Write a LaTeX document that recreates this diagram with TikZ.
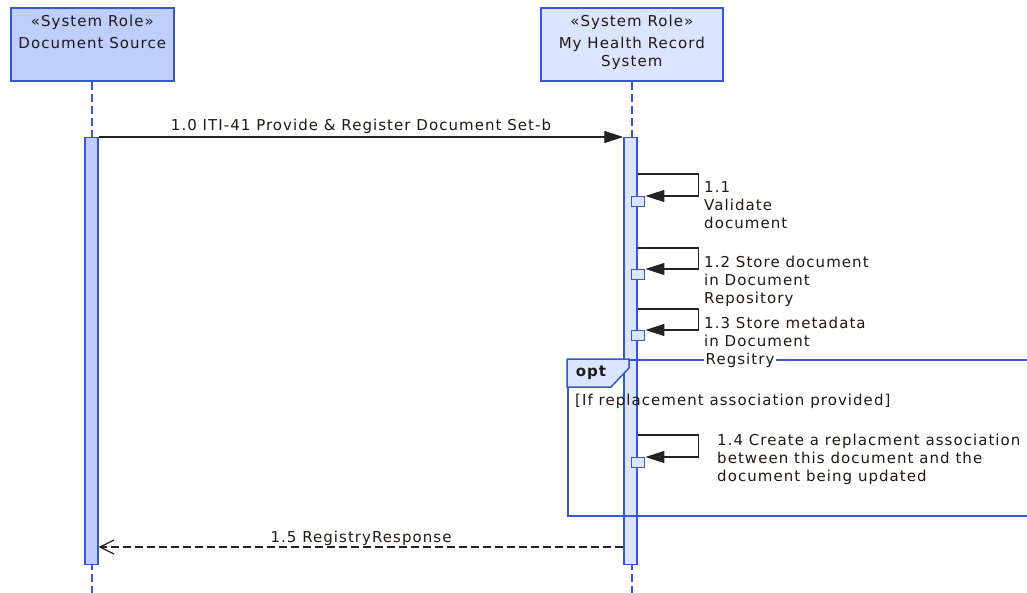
\documentclass[tikz,border=0pt]{standalone}
\usepackage{fontspec}
\setmainfont{DejaVu Sans}[LetterSpace=7]
\definecolor{roleblue}{RGB}{55, 85, 215}
\definecolor{srcfill}{RGB}{190, 207, 255}
\definecolor{mhrfill}{RGB}{220, 229, 255}
\definecolor{msgink}{RGB}{35, 35, 35}
\definecolor{txtink}{RGB}{30, 25, 20}
\usetikzlibrary{arrows.meta, positioning}

\begin{document}
\begin{tikzpicture}[x=1pt, y=-1pt,
  every node/.style={font=\fontsize{15}{18}\selectfont, text=txtink},
  headbox/.style={draw=roleblue, line width=1.6pt, anchor=north west, inner sep=0pt},
  lifeline/.style={draw=roleblue, line width=1.8pt, dash pattern=on 8pt off 4pt},
  actbar/.style={draw=roleblue, line width=1.4pt, minimum width=13pt, inner sep=0pt, anchor=north},
  execbox/.style={draw=roleblue, fill=mhrfill, line width=1.4pt, minimum width=13pt, minimum height=10pt, inner sep=0pt, anchor=north west},
  syncmsg/.style={draw=msgink, line width=1.2pt, -{Triangle[length=19pt, width=12pt]}},
  retmsg/.style={draw=msgink, line width=1.2pt, dash pattern=on 8pt off 4pt, -{Straight Barb[length=14pt, width=14pt, line width=1.2pt]}},
  msglabel/.style={anchor=north west, inner sep=0pt, align=left},
  optbold/.style={font=\fontsize{15}{18}\selectfont\bfseries}
]
\useasboundingbox (0,0) rectangle (1027,593);

% Lifeline heads
\node (src) [headbox, fill=srcfill, minimum width=163pt, minimum height=73pt] at (10,7) {};
\node (srcname) [below=8.3pt of src.north, inner sep=0pt, align=center] {«System Role»\\[3.6pt]Document Source};
\node (mhr) [headbox, fill=mhrfill, minimum width=182pt, minimum height=73pt] at (540,7) {};
\node (mhrname) [below=8.3pt of mhr.north, inner sep=0pt, align=center] {«System Role»\\[3.6pt]My Health Record\\System};

% Lifelines and activations
\coordinate (bottom) at (0,596);
\draw[lifeline] (src.south) -- (src.south |- bottom);
\draw[lifeline] (mhr.south) -- (mhr.south |- bottom);
\node (srcbar) [actbar, fill=srcfill, minimum height=427pt] at (91.5,137) {};
\node (mhrbar) [actbar, fill=mhrfill, minimum height=427pt] at (630.5,137) {};

% opt fragment
\node (optframe) [draw=roleblue, line width=1.5pt, anchor=north west, minimum width=480pt, minimum height=156pt, inner sep=0pt] at (567,359) {};
\draw[draw=roleblue, fill=mhrfill, line width=1.5pt] (optframe.north west) -- (629,359) -- (629,368) -- (611,387) -- (567,387) -- cycle;
\node (opttag) [optbold] at (591,373) {opt};
\node (guard) [anchor=west, inner sep=0pt] at (575,401) {[If replacement association provided]};

% 1.0
\draw[syncmsg] (srcbar.north east) -- node[above=2.5pt, inner sep=0pt] {1.0 ITI-41 Provide \& Register Document Set-b} (mhrbar.north west);

% 1.1 - 1.4 self calls
\coordinate (c11) at (0,174);
\coordinate (c12) at (0,248);
\coordinate (c13) at (0,309);
\coordinate (c14) at (0,435);
\node (act11) [execbox] at (631,196) {};
\node (act12) [execbox] at (631,269) {};
\node (act13) [execbox] at (631,330) {};
\node (act14) [execbox] at (631,457) {};
\draw[syncmsg] (mhrbar.east |- c11) -- ++(61,0) |- (act11.north east);
\draw[syncmsg] (mhrbar.east |- c12) -- ++(61,0) |- (act12.north east);
\draw[syncmsg] (mhrbar.east |- c13) -- ++(61,0) |- (act13.north east);
\draw[syncmsg] (mhrbar.east |- c14) -- ++(61,0) |- (act14.north east);
\node (lbl11) [msglabel] at (704,181) {1.1\\Validate\\document};
\node (lbl12) [msglabel] at (704,255.5) {1.2 Store document\\in Document\\Repository};
\node (lbl13) [msglabel] at (704,316.5) {1.3 Store metadata\\in Document\\{\fboxsep=1.5pt\colorbox{white}{Regsitry}}};
\node (lbl14) [msglabel] at (717,433.6) {1.4 Create a replacment association\\between this document and the\\document being updated};

% 1.5
\coordinate (c15) at (0,547);
\draw[retmsg] (mhrbar.west |- c15) -- node[above=0.5pt, inner sep=0pt] {1.5 RegistryResponse} (srcbar.east |- c15);
\end{tikzpicture}
\end{document}
